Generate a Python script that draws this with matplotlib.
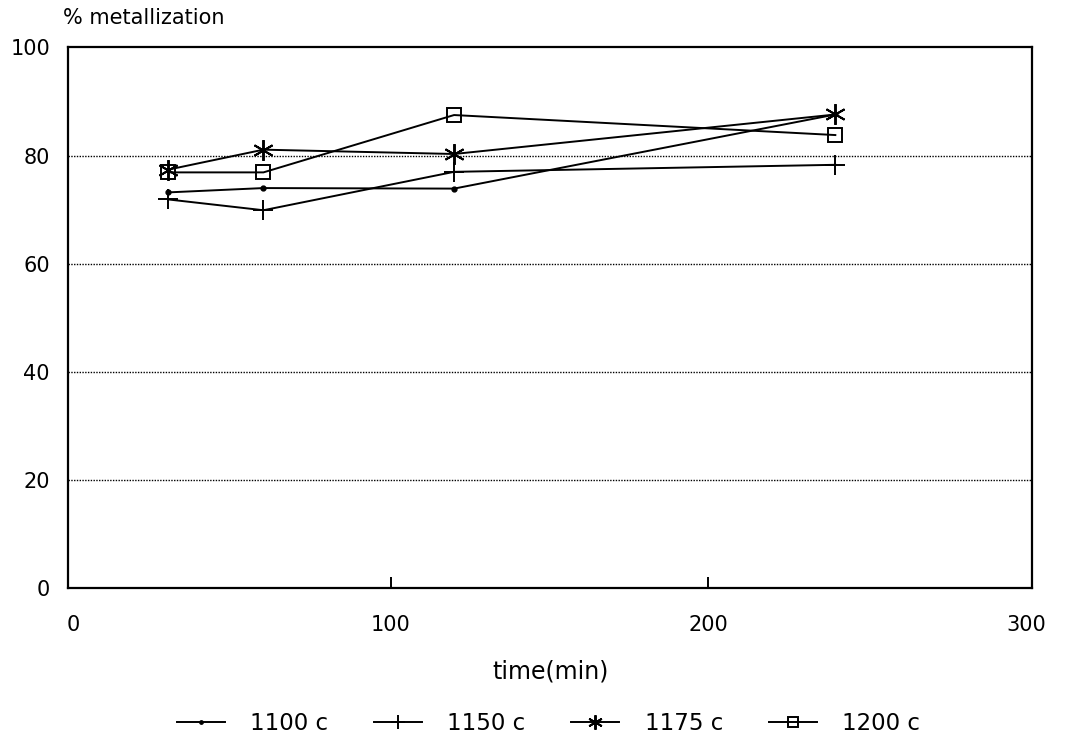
import numpy as np
import matplotlib
matplotlib.use("Agg")
import matplotlib.pyplot as plt

plt.rcParams['font.family'] = ['DejaVu Sans']

# time (min)
time_min = [30, 60, 120, 240]

# % metallization per reduction temperature
m_1100 = [73.2, 74.0, 73.9, 87.6]
m_1150 = [71.9, 69.9, 77.0, 78.3]
m_1175 = [77.4, 81.1, 80.3, 87.6]
m_1200 = [76.9, 76.9, 87.5, 83.8]

labels = ["1100 c", "1150 c", "1175 c", "1200 c"]
y_ticks = [0, 20, 40, 60, 80, 100]
x_ticks = [0, 100, 200, 300]

fig = plt.figure(figsize=(10.75, 7.41), dpi=100)
ax = fig.add_axes([0.0633, 0.206, 0.897, 0.73])

lw = 1.4
ax.plot(time_min, m_1100, color='black', lw=lw, marker='o', ms=3.5, label=labels[0])
ax.plot(time_min, m_1150, color='black', lw=lw, marker='+', ms=15, mew=1.4, label=labels[1])
ax.plot(time_min, m_1175, color='black', lw=lw, marker=(6, 2, 0), ms=15, mew=1.4, label=labels[2])
ax.plot(time_min, m_1200, color='black', lw=lw, marker='s', ms=10, mew=1.4, mfc='none', label=labels[3])

# dotted horizontal gridlines
for yv in y_ticks[1:-1]:
    ax.axhline(yv, color='black', lw=1.0, ls=(0, (1, 1)), zorder=0)

ax.set_xlim(-1.5, 302)
ax.set_ylim(0, 100)

ax.set_yticks(y_ticks)
ax.set_yticklabels([str(v) for v in y_ticks])
ax.tick_params(axis='y', length=0, pad=13, labelsize=15)

ax.set_xticks(x_ticks)
ax.set_xticklabels([str(v) for v in x_ticks])
ax.tick_params(axis='x', direction='in', length=8, width=1.4, pad=19, labelsize=15)
# only the inner ticks (100, 200) show a mark
for t in (ax.xaxis.get_major_ticks()[0], ax.xaxis.get_major_ticks()[-1]):
    t.tick1line.set_visible(False)

for sp in ax.spines.values():
    sp.set_linewidth(1.6)

ax.text(-0.005, 1.035, "% metallization", transform=ax.transAxes,
        fontsize=15, ha='left', va='bottom')
ax.set_xlabel("time(min)", fontsize=17, labelpad=18)

fig.legend(loc='center', ncol=4, frameon=False, fontsize=16.5,
           bbox_to_anchor=(0.51, 0.024), handlelength=2.1, columnspacing=2.0,
           handletextpad=1.1, markerscale=0.7)

fig.savefig("out.png", dpi=100)
